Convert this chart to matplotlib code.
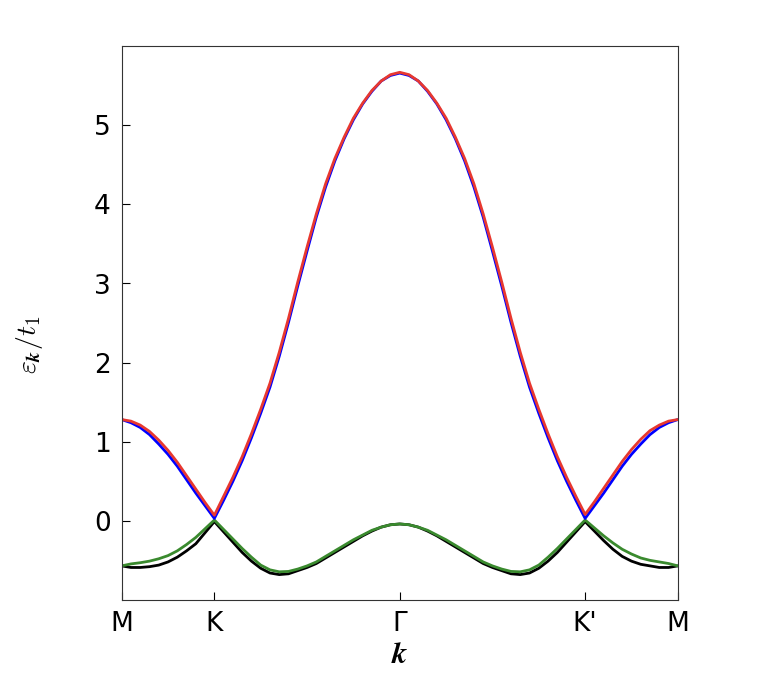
import numpy as np
import matplotlib
matplotlib.use("Agg")
import matplotlib.pyplot as plt

plt.rcParams["mathtext.fontset"] = "cm"

# high-symmetry path M-K-Γ-K'-M, sampled every 0.1 (|MK| = 1)
tick_pos = [0, 1, 3, 5, 6]
tick_labels = ["M", "K", "Γ", "K'", "M"]
k_path = np.linspace(0, 6, 61)

# band energies eps_k / t1
band_red = [
    1.28, 1.26, 1.21, 1.13, 1.02, 0.89, 0.74, 0.57, 0.40, 0.23, 0.07,
    0.31, 0.55, 0.81, 1.10, 1.41, 1.74, 2.13, 2.56, 3.02, 3.46,
    3.88, 4.26, 4.58, 4.85, 5.09, 5.28, 5.44, 5.56, 5.64, 5.67,
    5.64, 5.56, 5.44, 5.28, 5.09, 4.85, 4.58, 4.26, 3.88, 3.46,
    3.02, 2.56, 2.13, 1.74, 1.41, 1.10, 0.81, 0.55, 0.31, 0.08,
    0.24, 0.41, 0.58, 0.75, 0.90, 1.03, 1.14, 1.21, 1.26, 1.28,
]
band_blue = [
    1.28, 1.24, 1.18, 1.09, 0.97, 0.84, 0.69, 0.52, 0.35, 0.19, 0.03,
    0.26, 0.50, 0.76, 1.05, 1.36, 1.69, 2.08, 2.51, 2.97, 3.41,
    3.84, 4.22, 4.55, 4.83, 5.07, 5.27, 5.43, 5.56, 5.63, 5.66,
    5.63, 5.56, 5.43, 5.27, 5.07, 4.83, 4.55, 4.22, 3.84, 3.41,
    2.97, 2.51, 2.08, 1.69, 1.36, 1.05, 0.76, 0.50, 0.26, 0.03,
    0.19, 0.35, 0.52, 0.69, 0.84, 0.97, 1.09, 1.18, 1.24, 1.28,
]
band_green = [
    -0.57, -0.545, -0.53, -0.51, -0.48, -0.44, -0.38, -0.30, -0.21, -0.10, 0.01,
    -0.11, -0.23, -0.35, -0.46, -0.56, -0.62, -0.645, -0.64, -0.61, -0.57,
    -0.52, -0.45, -0.38, -0.31, -0.24, -0.18, -0.12, -0.08, -0.05, -0.04,
    -0.05, -0.08, -0.12, -0.18, -0.24, -0.31, -0.38, -0.45, -0.52, -0.57,
    -0.61, -0.64, -0.645, -0.62, -0.56, -0.46, -0.35, -0.23, -0.11, 0.01,
    -0.09, -0.19, -0.28, -0.36, -0.42, -0.47, -0.50, -0.52, -0.54, -0.57,
]
band_black = [
    -0.57, -0.59, -0.59, -0.58, -0.56, -0.52, -0.46, -0.38, -0.29, -0.15, -0.01,
    -0.14, -0.27, -0.40, -0.51, -0.60, -0.66, -0.68, -0.67, -0.63, -0.59,
    -0.54, -0.47, -0.40, -0.33, -0.26, -0.19, -0.13, -0.08, -0.05, -0.04,
    -0.05, -0.08, -0.13, -0.19, -0.26, -0.33, -0.40, -0.47, -0.54, -0.59,
    -0.63, -0.67, -0.68, -0.66, -0.60, -0.51, -0.40, -0.27, -0.14, -0.01,
    -0.13, -0.25, -0.36, -0.45, -0.51, -0.55, -0.57, -0.59, -0.59, -0.57,
]

fig = plt.figure(figsize=(7.8, 7.0), dpi=100)
ax = fig.add_axes([0.156, 0.143, 0.713, 0.791])

line_kw = dict(lw=2, solid_joinstyle="round", solid_capstyle="round")
ax.plot(k_path, band_black, color="black", **line_kw)
ax.plot(k_path, band_green, color="#3a8a2e", **line_kw)
ax.plot(k_path, band_blue, color="blue", **line_kw)
ax.plot(k_path, band_red, color="#e8382f", **line_kw)

ax.set_xlim(0, 6)
ax.set_ylim(-1.0, 6.0)
ax.set_xticks(tick_pos)
ax.set_xticklabels(tick_labels)
ax.set_yticks([0, 1, 2, 3, 4, 5])
ax.tick_params(direction="in", length=6, labelsize=19, pad=8)

ax.set_xlabel(r"$\boldsymbol{k}$", fontsize=22, labelpad=2)
ax.set_ylabel(r"$\varepsilon_{\boldsymbol{k}}/t_1$", fontsize=20)
ax.yaxis.set_label_coords(-0.138, 0.46)

for side in ax.spines.values():
    side.set_color("#333333")

fig.savefig("out.png", dpi=100)
